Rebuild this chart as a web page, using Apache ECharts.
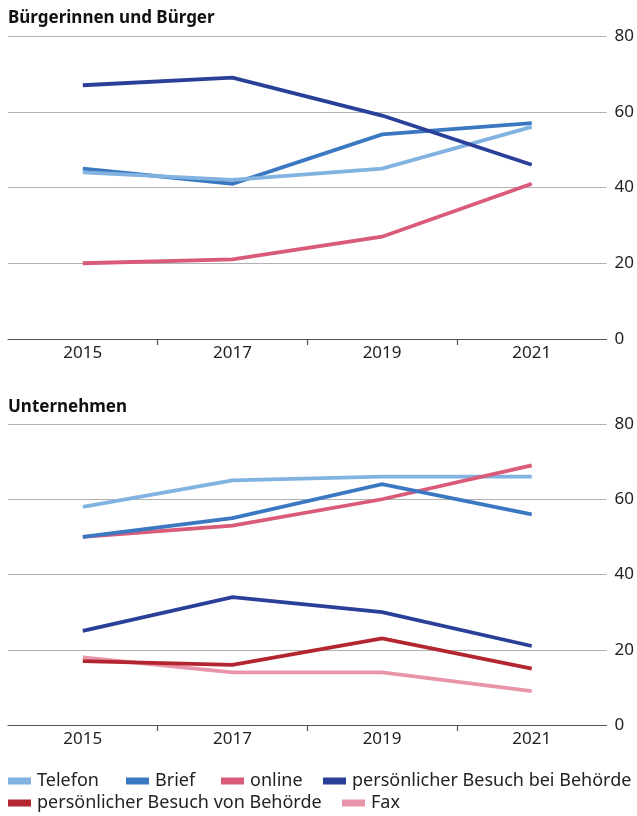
<!DOCTYPE html>
<html>
<head>
<meta charset="utf-8">
<script src="https://cdn.jsdelivr.net/npm/echarts@6/dist/echarts.min.js"></script>
<style>html,body{margin:0;padding:0;background:#fff}#c{width:637px;height:816px}</style>
</head>
<body>
<div id="c"></div>
<script>
const years = ['2015','2017','2019','2021'];
const yTicks = [0,20,40,60,80];
const panelTitles = ['Bürgerinnen und Bürger','Unternehmen'];
const seriesNames = ['Telefon','Brief','online','persönlicher Besuch bei Behörde','persönlicher Besuch von Behörde','Fax'];

// Bürgerinnen und Bürger
const buergerTelefon = [44,42,45,56];
const buergerBrief = [45,41,54,57];
const buergerOnline = [20,21,27,41];
const buergerBesuchBei = [67,69,59,46];

// Unternehmen
const untTelefon = [58,65,66,66];
const untBrief = [50,55,64,56];
const untOnline = [50,53,60,69];
const untBesuchBei = [25,34,30,21];
const untBesuchVon = [17,16,23,15];
const untFax = [18,14,14,9];

const colors = {
  'Telefon':'#82b3e0',
  'Brief':'#3b78c2',
  'online':'#d95b78',
  'persönlicher Besuch bei Behörde':'#2a3f98',
  'persönlicher Besuch von Behörde':'#b3252f',
  'Fax':'#e995a9'
};
const FONT = 'Noto Sans';

function mkSeries(name, data, idx, z){
  return {name, type:'line', data, xAxisIndex:idx*2, yAxisIndex:idx, showSymbol:false, symbol:'none',
    lineStyle:{width:3.8, color:colors[name], cap:'butt', join:'miter'}, itemStyle:{color:colors[name]},
    z:z, animation:false};
}

const grids = [
  {left:8, right:30, top:36, height:303},
  {left:8, right:30, top:424, height:301}
];
const xAxes = [];
grids.forEach((g,i)=>{
  xAxes.push({
    type:'category', gridIndex:i, data:years, boundaryGap:true, position:'bottom',
    axisLine:{lineStyle:{color:'#555', width:1.2}},
    axisTick:{show:false},
    axisLabel:{color:'#222', fontSize:17, fontFamily:FONT, margin:6}
  });
  // helper axis only for the tick marks between the categories
  xAxes.push({
    type:'value', gridIndex:i, min:0, max:years.length, position:'bottom',
    axisLine:{show:false}, splitLine:{show:false}, axisLabel:{show:false},
    axisTick:{show:true, length:6, lineStyle:{color:'#555', width:1.2}, customValues:[1,2,3]}
  });
});
const yAxes = grids.map((g,i)=>({
  type:'value', gridIndex:i, position:'right', min:0, max:80, interval:20,
  axisLine:{show:false}, axisTick:{show:false},
  splitLine:{lineStyle:{color:'#b0b0b0', width:1.2}},
  axisLabel:{color:'#222', fontSize:17, fontFamily:FONT, margin:8,
    formatter:v=>yTicks.includes(v)?String(v):''}
}));

const series = [
  mkSeries('Brief', buergerBrief, 0, 2),
  mkSeries('Telefon', buergerTelefon, 0, 3),
  mkSeries('online', buergerOnline, 0, 4),
  mkSeries('persönlicher Besuch bei Behörde', buergerBesuchBei, 0, 5),
  mkSeries('Fax', untFax, 1, 2),
  mkSeries('persönlicher Besuch von Behörde', untBesuchVon, 1, 3),
  mkSeries('persönlicher Besuch bei Behörde', untBesuchBei, 1, 4),
  mkSeries('Telefon', untTelefon, 1, 5),
  mkSeries('online', untOnline, 1, 6),
  mkSeries('Brief', untBrief, 1, 7)
];

const legendSpots = [[8,772],[126,772],[221,772],[323,772],[8,794],[342,794]];
const legends = seriesNames.map((n,i)=>({
  orient:'horizontal', icon:'rect', itemWidth:23, itemHeight:7, itemGap:0, padding:0,
  left:legendSpots[i][0], top:legendSpots[i][1], data:[n], selectedMode:false,
  textStyle:{color:'#222', fontSize:18, fontFamily:FONT, padding:[0,0,0,1]}
}));

const chart = echarts.init(document.getElementById('c'), null, {renderer:'canvas'});
chart.setOption({
  backgroundColor:'#fff',
  animation:false,
  title:[
    {text:panelTitles[0], left:3, top:5, textStyle:{fontSize:17, fontWeight:'bold', color:'#111', fontFamily:FONT}},
    {text:panelTitles[1], left:3, top:394, textStyle:{fontSize:17, fontWeight:'bold', color:'#111', fontFamily:FONT}}
  ],
  grid:grids, xAxis:xAxes, yAxis:yAxes, series,
  legend:legends
});
</script>
</body>
</html>
